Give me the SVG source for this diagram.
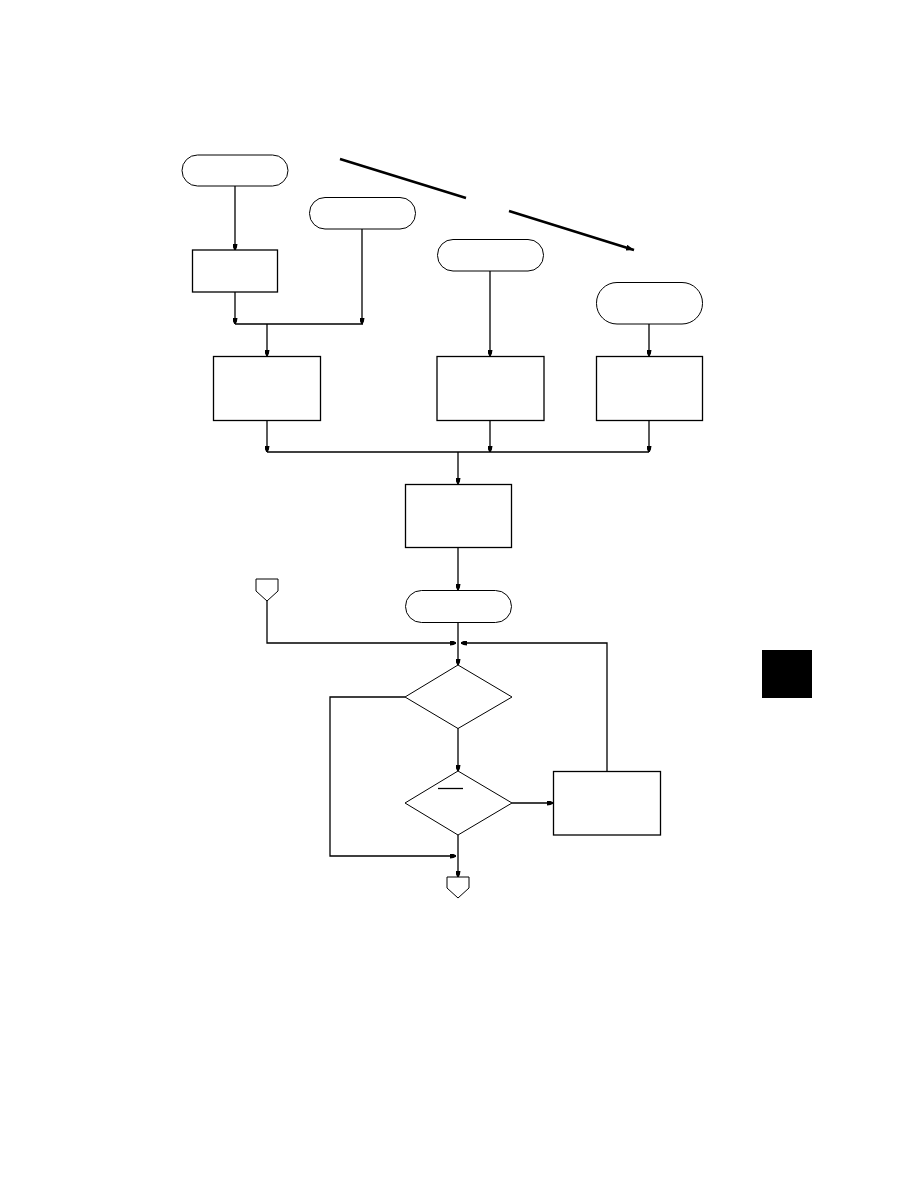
<svg xmlns="http://www.w3.org/2000/svg" width="918" height="1188" viewBox="0 0 918 1188">
<style>
.sh{fill:#fff;stroke:#000;stroke-width:1.3}
.term{fill:#fff;stroke:#000;stroke-width:1}
.ln{fill:none;stroke:#000;stroke-width:1.3}
.thick{fill:none;stroke:#000;stroke-width:2.4}
</style>
<defs>
<marker id="ah" markerUnits="userSpaceOnUse" viewBox="0 0 6 5" refX="6" refY="2.5" markerWidth="6" markerHeight="5" orient="auto">
<path d="M0,0 L3.5,0.6 L6,1.8 L6,3.2 L3.5,4.4 L0,5 z" fill="#000"/>
</marker>
<marker id="ahb" markerUnits="userSpaceOnUse" viewBox="0 0 8 6" refX="8" refY="3" markerWidth="8" markerHeight="6" orient="auto">
<path d="M0,0 L8,3 L0,6 z" fill="#000"/>
</marker>
</defs>
<rect width="918" height="1188" fill="#fff"/>
<g id="connectors">
<line class="ln" x1="235" y1="186" x2="235" y2="250" marker-end="url(#ah)"/>
<line class="ln" x1="235" y1="292" x2="235" y2="324" marker-end="url(#ah)"/>
<line class="ln" x1="362" y1="229" x2="362" y2="324" marker-end="url(#ah)"/>
<line class="ln" x1="235" y1="324" x2="363" y2="324"/>
<line class="ln" x1="267" y1="324" x2="267" y2="356" marker-end="url(#ah)"/>
<line class="ln" x1="490" y1="271" x2="490" y2="356" marker-end="url(#ah)"/>
<line class="ln" x1="649" y1="324" x2="649" y2="356" marker-end="url(#ah)"/>
<line class="ln" x1="267" y1="420" x2="267" y2="452" marker-end="url(#ah)"/>
<line class="ln" x1="490" y1="420" x2="490" y2="452" marker-end="url(#ah)"/>
<line class="ln" x1="649" y1="420" x2="649" y2="452" marker-end="url(#ah)"/>
<line class="ln" x1="267" y1="452" x2="649" y2="452"/>
<line class="ln" x1="458" y1="452" x2="458" y2="484" marker-end="url(#ah)"/>
<line class="ln" x1="458" y1="547" x2="458" y2="590" marker-end="url(#ah)"/>
<line class="ln" x1="458" y1="622" x2="458" y2="665" marker-end="url(#ah)"/>
<polyline class="ln" points="267,601 267,643 456,643" marker-end="url(#ah)"/>
<polyline class="ln" points="607,771 607,643 461,643" marker-end="url(#ah)"/>
<line class="ln" x1="458" y1="728" x2="458" y2="771" marker-end="url(#ah)"/>
<polyline class="ln" points="405,697 330,697 330,856 456,856" marker-end="url(#ah)"/>
<line class="ln" x1="512" y1="803" x2="553" y2="803" marker-end="url(#ah)"/>
<line class="ln" x1="458" y1="835" x2="458" y2="877" marker-end="url(#ah)"/>
<line class="thick" x1="340" y1="159" x2="466" y2="198"/>
<line class="thick" x1="509" y1="211" x2="634" y2="250" marker-end="url(#ahb)"/>
</g>
<g id="t1"><rect class="term" x="182" y="155" width="106" height="31" rx="15.5"/></g>
<g id="t2"><rect class="term" x="309.5" y="197.5" width="106" height="31.5" rx="15.5"/></g>
<g id="t3"><rect class="term" x="437.5" y="239.5" width="106" height="31.5" rx="15.5"/></g>
<g id="t4"><rect class="term" x="596.5" y="282.5" width="106" height="41.5" rx="20.5"/></g>
<g id="b1"><rect class="sh" x="192.5" y="250" width="85" height="42"/></g>
<g id="bA"><rect class="sh" x="213.5" y="356.5" width="107" height="64"/></g>
<g id="bB"><rect class="sh" x="437" y="356.5" width="107" height="64"/></g>
<g id="bC"><rect class="sh" x="596.5" y="356.5" width="106" height="64"/></g>
<g id="bD"><rect class="sh" x="405.5" y="484.5" width="106" height="63"/></g>
<g id="t5"><rect class="term" x="405.5" y="590.5" width="106" height="32" rx="16"/></g>
<g id="c1"><polygon class="term" points="256,579 278,579 278,591 267,601 256,591"/></g>
<g id="d1"><polygon class="term" points="458,665 512,697 458,728.5 405,697"/></g>
<g id="d2"><polygon class="term" points="458,771 512,803 458,835 405,803"/>
<line class="ln" x1="438" y1="788.5" x2="463" y2="788.5"/></g>
<g id="bE"><rect class="sh" x="553.5" y="771.5" width="107" height="63.5"/></g>
<g id="c2"><polygon class="term" points="447,877 469,877 469,888 458,898 447,888"/></g>
<g id="tab"><rect x="762" y="650" width="50" height="48" fill="#000"/></g>
</svg>
